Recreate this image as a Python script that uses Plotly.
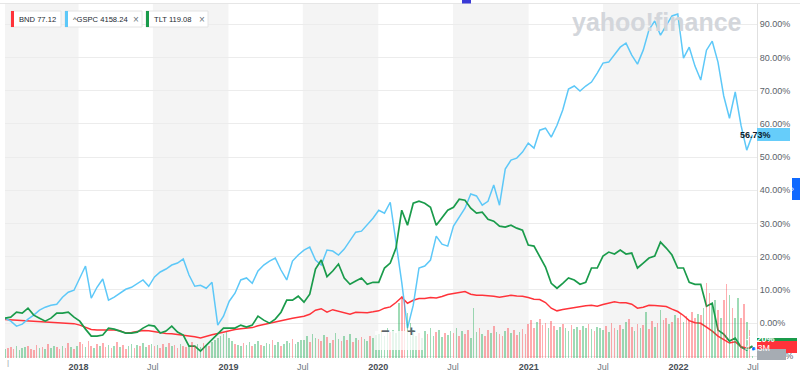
import plotly.graph_objects as go
import pandas as pd

# ---------------- data (percent change since start) ----------------
start_date = "2017-07-06"
end_date = "2022-07-11"
line_dates = pd.date_range(start_date, periods=131, freq="14D")
vol_dates = pd.date_range(start_date, periods=261, freq="7D")

gspc = [1.5, 0.6, -0.9, -0.3, 1.2, 2.4, 3.9, 4.8, 5.4, 5.7, 7.8, 9.3, 9.9, 13.3, 17.2, 7.5,
        10.8, 13.3, 6.9, 7.8, 9.0, 10.2, 10.8, 12.0, 13.0, 11.1, 13.9, 15.4, 16.3, 17.5, 18.1,
        19.3, 14.5, 11.1, 11.4, 10.5, 12.3, -0.6, 2.1, 6.6, 9.0, 13.0, 13.6, 12.0, 15.7, 17.5,
        18.7, 19.6, 16.0, 13.0, 18.7, 20.5, 22.0, 22.9, 19.0, 17.5, 22.0, 21.7, 20.5, 22.3,
        25.0, 27.4, 27.7, 29.5, 31.6, 34.0, 33.1, 36.4, 25.0, 12.3, -1.5, 5.4, 16.6, 17.2,
        19.0, 26.2, 23.8, 23.2, 29.2, 31.9, 34.6, 38.9, 38.3, 35.5, 36.7, 41.6, 35.5, 46.4,
        49.1, 49.7, 51.5, 54.2, 52.7, 58.1, 58.7, 56.0, 59.6, 64.2, 70.5, 71.4, 69.9, 71.4,
        72.6, 75.3, 78.3, 78.6, 81.0, 83.1, 84.3, 80.7, 78.0, 82.2, 88.3, 91.0, 86.7, 89.8,
        92.5, 93.1, 79.8, 83.1, 77.4, 73.2, 82.2, 84.9, 78.6, 68.4, 61.7, 69.6, 59.6, 52.1,
        56.73]

tlt = [1.5, 1.8, 3.3, 3.0, 4.5, 2.4, 1.5, 0.6, 1.5, 3.0, 3.0, 3.3, 1.8, 0.6, -1.8, -3.9,
       -3.9, -3.6, -1.5, -1.8, -2.4, -3.0, -3.0, -2.7, -1.5, -0.6, -0.9, -3.0, -2.4, -0.9,
       -2.7, -3.6, -6.9, -6.9, -8.4, -6.6, -5.1, -3.3, -1.5, -1.5, -1.5, -0.6, -1.2, -0.6,
       2.1, 0.9, 0.0, 1.2, 3.3, 6.9, 6.9, 8.1, 6.3, 8.7, 16.3, 19.0, 14.0, 15.7, 17.8, 13.6,
       11.7, 12.7, 13.6, 11.7, 12.3, 12.3, 16.6, 18.1, 22.6, 34.0, 29.5, 36.1, 36.7, 36.1,
       34.9, 29.5, 31.6, 34.0, 34.9, 37.3, 37.0, 34.6, 33.1, 33.4, 31.3, 30.7, 29.2, 28.9,
       29.5, 28.6, 28.0, 23.5, 23.2, 19.9, 16.9, 12.0, 10.5, 12.0, 13.6, 13.0, 11.7, 12.3,
       16.6, 16.6, 20.2, 21.4, 20.8, 22.0, 20.8, 21.1, 16.6, 18.1, 19.6, 20.2, 24.4, 22.6,
       20.5, 16.6, 16.6, 12.3, 11.7, 11.7, 5.1, 6.0, -2.1, -3.3, -5.4, -4.5, -7.2, -8.1,
       -6.9]

bnd = [1.1, 1.0, 1.0, 0.9, 0.8, 0.7, 0.6, 0.45, 0.4, 0.3, 0.2, 0.1, -0.15, -0.6, -1.35,
       -1.9, -2.1, -2.1, -1.95, -2.1, -2.3, -3.0, -2.8, -2.5, -2.2, -2.3, -2.6, -2.85, -3.1,
       -3.2, -3.4, -3.55, -3.9, -4.1, -4.5, -3.9, -3.5, -3.1, -2.7, -2.25, -1.9, -1.7, -1.5,
       -1.35, -0.8, -0.4, -0.1, 0.4, 0.9, 1.2, 1.5, 1.8, 2.1, 2.65, 3.9, 4.35, 3.3, 4.05,
       3.6, 3.15, 2.7, 3.3, 3.2, 3.15, 3.4, 3.7, 4.5, 4.9, 6.2, 7.8, 6.0, 6.9, 7.4, 7.4,
       7.7, 7.6, 8.0, 8.6, 8.9, 9.3, 9.5, 8.7, 8.4, 8.4, 8.35, 8.1, 7.8, 8.1, 8.4, 8.2, 8.1,
       7.7, 7.2, 7.1, 6.2, 4.5, 3.7, 4.1, 4.4, 4.75, 5.0, 5.2, 5.35, 5.1, 5.6, 6.0, 6.4,
       6.1, 6.1, 5.7, 4.5, 4.8, 5.4, 5.3, 5.1, 5.0, 4.2, 3.5, 2.3, 0.75, 0.1, -0.05, -1.2,
       -2.4, -3.9, -5.0, -6.0, -5.6, -7.1, -7.5, -7.2]

# weekly volume (millions) and direction (g = up week, r = down week)
volume = [
    18, 20, 22, 18, 24, 16, 20, 22, 24, 18, 16, 26, 20, 22, 18, 28, 20, 24, 22, 18, 24, 20, 30, 22, 18, 24,
    32, 28, 22, 34, 24, 20, 28, 24, 30, 22, 26, 20, 24, 32, 22, 26, 18, 24, 28, 20, 26, 24, 30, 22, 26, 28,
    24, 26, 20, 28, 22, 30, 24, 26, 20, 28, 24, 22, 26, 32, 24, 28, 22, 30, 26, 24, 32, 36, 40, 44, 48, 52,
    40, 34, 28, 26, 24, 30, 26, 32, 24, 28, 34, 26, 24, 30, 28, 36, 26, 32, 24, 28, 34, 30, 38, 28, 32, 36,
    36, 44, 32, 48, 40, 38, 34, 46, 42, 30, 36, 50, 38, 34, 44, 36, 48, 32, 40, 36, 42, 38, 34, 44, 40, 46,
    48, 54, 44, 60, 52, 56, 50, 110, 124, 116, 90, 70, 56, 44, 50, 40, 54, 48, 60, 44, 52, 56, 42, 50, 46, 54,
    50, 60, 44, 54, 48, 56, 40, 100, 52, 60, 48, 44, 56, 50, 64, 52, 48, 44, 54, 60, 50, 56, 46, 52, 58, 48,
    68, 76, 60, 72, 78, 66, 70, 60, 74, 64, 56, 62, 68, 60, 54, 66, 58, 62, 56, 64, 60, 68, 58, 54, 62, 60,
    56, 64, 52, 70, 60, 56, 66, 58, 72, 78, 62, 54, 68, 60, 66, 92, 58, 74, 62, 70, 96, 76, 80, 68, 72, 86,
    80, 88, 72, 84, 76, 92, 80, 88, 86, 100, 150, 130, 106, 116, 96, 80, 116, 148, 126, 100, 80, 120, 80,
    108, 72, 56, 4.13]
direction = ("grrrggggrrrrgrgrggrrgrrgrg"
             "rrgrrgrgrrgrgrgrrggrgrggrg"
             "rgrrgrgrrgrrgrrggrgrgggggg"
             "ggrggrggrggrgggrggrgggrggg"
             "ggrggrrgrgrggrgrgrgrrggrgg"
             "ggggrgggrrggggrggrggrggrgg"
             "rgrgrrgggrgrrgrgrrgrgrrgrr"
             "rrrgrrrgrrggrggrggrggrgrgg"
             "grgrrgrggrrgrgrgrrgrgrrgrg"
             "rrgrrrrgrgrrggrgrrgrggrrgrg")

x_tick_dates = ["2018-01-01", "2018-07-01", "2019-01-01", "2019-07-01", "2020-01-01",
                "2020-07-01", "2021-01-01", "2021-07-01", "2022-01-01", "2022-07-01"]
x_tick_text = ["2018", "Jul", "2019", "Jul", "2020", "Jul", "2021", "Jul", "2022", "Jul"]
y_ticks = [-10, 0, 10, 20, 30, 40, 50, 60, 70, 80, 90]
half_year_bands = [("2017-07-06", "2018-01-01"), ("2018-07-01", "2019-01-01"),
                   ("2019-07-01", "2020-01-01"), ("2020-07-01", "2021-01-01"),
                   ("2021-07-01", "2022-01-01")]

legend_items = [("BND 77.12", "#ff333a", False), ("^GSPC 4158.24", "#5dc8f8", True),
                ("TLT 119.08", "#1a9b4b", True)]

# ---------------- styling ----------------
RED = "#ff333a"
BLUE = "#5dc8f8"
GREEN = "#1a9b4b"
FONT = "Liberation Sans, Arial, sans-serif"

W, H = 800, 380
L, R, T, B = 5, 43, 4, 22
PW, PH = W - L - R, H - T - B


def px(x):
    return (x - L) / PW


def py(y):
    return (H - B - y) / PH


fig = go.Figure()

bar_colors = ["rgba(26,170,80,0.42)" if d == "g" else "rgba(255,51,58,0.40)" for d in direction]
fig.add_trace(go.Bar(x=vol_dates, y=volume, marker=dict(color=bar_colors, line=dict(width=0)),
                     width=4 * 86400000, yaxis="y2", showlegend=False, hoverinfo="skip"))

fig.add_trace(go.Scatter(x=line_dates, y=bnd, mode="lines", line=dict(color=RED, width=1.5),
                         name="BND", showlegend=False))
fig.add_trace(go.Scatter(x=line_dates, y=gspc, mode="lines", line=dict(color=BLUE, width=1.5),
                         name="^GSPC", showlegend=False))
fig.add_trace(go.Scatter(x=line_dates, y=tlt, mode="lines", line=dict(color=GREEN, width=1.7),
                         name="TLT", showlegend=False))

shapes = []
for a, b in half_year_bands:
    shapes.append(dict(type="rect", xref="x", yref="paper", x0=a, x1=b, y0=0, y1=1,
                       fillcolor="#f4f4f4", line=dict(width=0), layer="below"))

# top rule and small marker
shapes.append(dict(type="line", xref="paper", yref="paper", x0=px(0), x1=px(800), y0=py(3.5), y1=py(3.5),
                   line=dict(color="#e6e6e6", width=1), layer="above"))
shapes.append(dict(type="rect", xref="paper", yref="paper", x0=px(462), x1=px(471), y0=py(3.5), y1=py(0),
                   fillcolor="#3a3ad6", line=dict(width=0)))

annotations = []
# legend chips
chip_x = [(11, 61), (65, 142), (146, 208)]
for (label, col, closable), (x0, x1) in zip(legend_items, chip_x):
    shapes.append(dict(type="rect", xref="paper", yref="paper", x0=px(x0), x1=px(x1), y0=py(27), y1=py(11),
                       fillcolor="white", line=dict(color="#e4e4e4", width=1)))
    shapes.append(dict(type="rect", xref="paper", yref="paper", x0=px(x0), x1=px(x0 + 3), y0=py(27), y1=py(11),
                       fillcolor=col, line=dict(width=0)))
    annotations.append(dict(x=px(x0 + 6), y=py(19), xref="paper", yref="paper", text=label, showarrow=False,
                            xanchor="left", yanchor="middle", font=dict(size=7.6, color="#232a31", family=FONT)))
    if closable:
        annotations.append(dict(x=px(x1 - 6), y=py(19), xref="paper", yref="paper", text="×", showarrow=False,
                                xanchor="center", yanchor="middle", font=dict(size=10, color="#6e7780", family=FONT)))

# watermark
annotations.append(dict(x=px(657), y=py(22), xref="paper", yref="paper", text="<b>yahoo!finance</b>",
                        showarrow=False, xanchor="center", yanchor="middle",
                        font=dict(size=25, color="#d3d6db", family=FONT)))

# zoom buttons
shapes.append(dict(type="rect", xref="paper", yref="paper", x0=px(375), x1=px(424), y0=py(350), y1=py(331),
                   fillcolor="rgba(255,255,255,0.75)", line=dict(width=0)))
annotations.append(dict(x=px(385), y=py(340.5), xref="paper", yref="paper", text="<b>−</b>", showarrow=False,
                        font=dict(size=15, color="#5b636a", family=FONT)))
annotations.append(dict(x=px(411.5), y=py(340.5), xref="paper", yref="paper", text="<b>+</b>", showarrow=False,
                        font=dict(size=15, color="#5b636a", family=FONT)))

# right side price labels
shapes.append(dict(type="rect", xref="paper", yref="paper", x0=px(757), x1=px(790), y0=py(141), y1=py(128),
                   fillcolor="#66cdfa", line=dict(width=0)))
annotations.append(dict(x=px(773.5), y=py(134.5), xref="paper", yref="paper", text="<b>56.73%</b>",
                        showarrow=False, font=dict(size=9, color="#0b1c2c", family=FONT)))
shapes.append(dict(type="rect", xref="paper", yref="paper", x0=px(757), x1=px(797), y0=py(350), y1=py(338),
                   fillcolor=GREEN, line=dict(width=0)))
shapes.append(dict(type="rect", xref="paper", yref="paper", x0=px(757), x1=px(797), y0=py(353), y1=py(341),
                   fillcolor=RED, line=dict(width=0)))
annotations.append(dict(x=px(777), y=py(346), xref="paper", yref="paper", text="<b>-7.20%</b>",
                        showarrow=False, font=dict(size=9, color="white", family=FONT)))
shapes.append(dict(type="rect", xref="paper", yref="paper", x0=px(757), x1=px(786), y0=py(360), y1=py(349),
                   fillcolor="#a6acb3", line=dict(width=0)))
annotations.append(dict(x=px(771.5), y=py(354.5), xref="paper", yref="paper", text="4.13M",
                        showarrow=False, font=dict(size=9, color="white", family=FONT)))
shapes.append(dict(type="circle", xref="paper", yref="paper", x0=px(752), x1=px(756), y0=py(351), y1=py(347),
                   fillcolor="#0f69ff", line=dict(width=0)))

# side tab
shapes.append(dict(type="rect", xref="paper", yref="paper", x0=px(792), x1=px(801), y0=py(200), y1=py(178),
                   fillcolor="#0f69ff", line=dict(width=0)))
annotations.append(dict(x=px(796), y=py(189), xref="paper", yref="paper", text="›", showarrow=False,
                        font=dict(size=9, color="white", family=FONT)))

# cut-off first tick
annotations.append(dict(x=px(5), y=py(369), xref="paper", yref="paper", text="|", showarrow=False,
                        font=dict(size=8, color="#9aa0a6", family=FONT)))

tick_text = [f"<b>{t}</b>" if t != "Jul" else "<span style='color:#6e7780'>Jul</span>" for t in x_tick_text]

fig.update_layout(
    width=W, height=H,
    margin=dict(l=L, r=R, t=T, b=B),
    paper_bgcolor="white", plot_bgcolor="white",
    showlegend=False,
    bargap=0,
    font=dict(family=FONT),
    xaxis=dict(type="date", range=[start_date, end_date], tickvals=x_tick_dates, ticktext=tick_text,
               showgrid=False, zeroline=False, showline=False, ticks="", ticklabelstandoff=2,
               tickfont=dict(size=9, color="#464e56", family=FONT)),
    yaxis=dict(side="right", range=[-10.5, 96.1], tickvals=y_ticks,
               ticktext=[f"{v:.2f}%" for v in y_ticks], showgrid=True, gridcolor="#ececec",
               zeroline=False, showline=True, linecolor="#e0e0e0", ticks="",
               tickfont=dict(size=9, color="#5b636a", family=FONT)),
    yaxis2=dict(overlaying="y", range=[0, 708], visible=False, fixedrange=True),
    shapes=shapes,
    annotations=annotations,
)

fig.write_html("out.html", config={"displayModeBar": False},
               post_script="document.body.style.margin='0';document.body.style.overflow='hidden';")
